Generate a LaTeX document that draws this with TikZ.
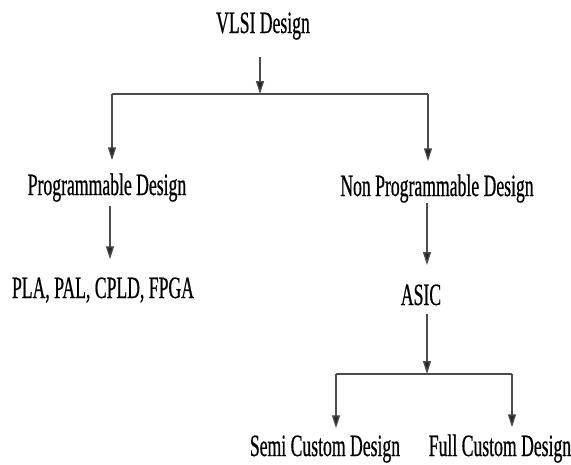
\documentclass[tikz,border=0pt]{standalone}
\usepackage{fontspec}
\setmainfont{Liberation Serif}[FakeStretch=0.57,FakeBold=0.6]
\usetikzlibrary{arrows.meta}
\begin{document}
\begin{tikzpicture}[x=1pt,y=-1pt,
  lbl/.style={anchor=base,inner sep=0pt,font=\fontsize{31}{34}\selectfont},
  ln/.style={draw=black!70,line width=1.3pt},
  arr/.style={ln,-{Triangle[length=13pt,width=8pt,fill=black!85]}}]
\useasboundingbox (0,0) rectangle (571,464);
\node[lbl] (vlsi) at (263,33) {VLSI Design};
\node[lbl] (prog) at (107,195) {Programmable Design};
\node[lbl] (nonprog) at (437,196) {Non Programmable Design};
\node[lbl] (pla) at (103,298) {PLA, PAL, CPLD, FPGA};
\node[lbl] (asic) at (421,305) {ASIC};
\node[lbl] (semi) at (325,456) {Semi Custom Design};
\node[lbl] (full) at (500,456) {Full Custom Design};
\coordinate (barM) at (260,94);
\coordinate (barL) at (112,94);
\coordinate (barR) at (428,94);
\coordinate (npA) at (427,203);
\coordinate (npB) at (427,265);
\coordinate (bar2M) at (427,374);
\coordinate (bar2L) at (336,374);
\coordinate (bar2R) at (512,374);
% top level
\draw[arr,shorten <=17pt] (vlsi.south -| barM) -- (barM);
\draw[ln] (barL) -- (barR);
\draw[arr,shorten >=13pt] (barL) -- (barL |- prog.north);
\draw[arr,shorten >=13pt] (barR) -- (barR |- nonprog.north);
% programmable
\draw[arr,shorten <=4pt,shorten >=18pt] ([xshift=3pt]prog.south) -- ([xshift=3pt]prog.south |- pla.north);
% non programmable
\draw[arr] (npA) -- (npB);
\draw[arr,shorten <=8pt] (asic.south -| bar2M) -- (bar2M);
\draw[ln] (bar2L) -- (bar2R);
\draw[arr,shorten >=7pt] (bar2L) -- (bar2L |- semi.north);
\draw[arr,shorten >=7pt] (bar2R) -- (bar2R |- full.north);
\end{tikzpicture}
\end{document}
